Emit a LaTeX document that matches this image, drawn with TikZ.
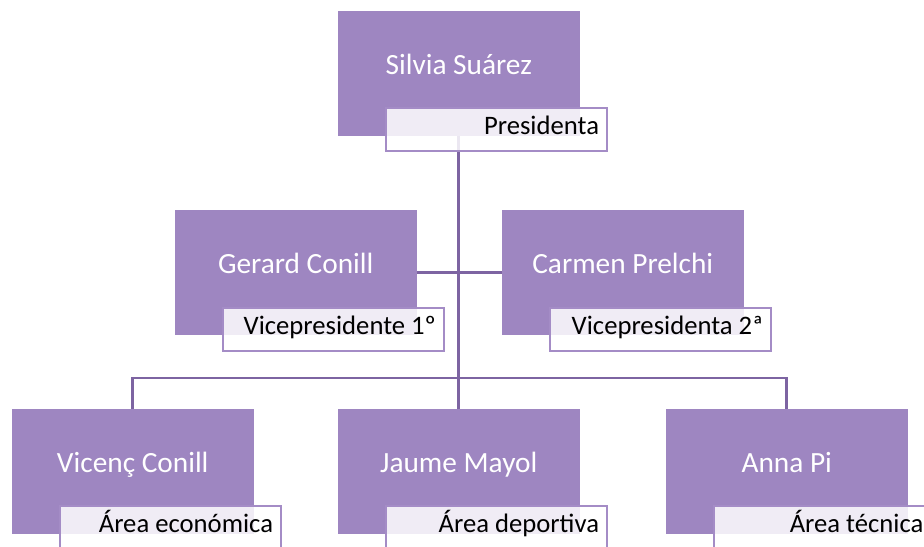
\documentclass[tikz,border=0pt]{standalone}
\usepackage{fontspec}
\setmainfont{Carlito}
\usetikzlibrary{backgrounds}
\definecolor{lila}{HTML}{9E86C1}
\definecolor{lilalinea}{HTML}{7D64A2}
\definecolor{lilaborde}{HTML}{A48CC6}
\tikzset{
  persona/.style={fill=lila, draw=lila, minimum width=180.75pt, minimum height=93pt, inner sep=0pt, anchor=north west},
  nombre/.style={text=white, font=\fontsize{22}{26}\selectfont, anchor=base},
  cargo/.style={fill=white, fill opacity=0.85, text opacity=1, draw=lilaborde, line width=1.5pt,
    minimum height=32.25pt, text width=153.75pt, align=flush right, inner xsep=6pt, inner ysep=0pt,
    text height=13pt, text depth=6pt, anchor=north west, font=\fontsize{20}{24}\selectfont},
  enlace/.style={draw=lilalinea, line width=2pt}
}

\begin{document}
\begin{tikzpicture}[x=0.75pt,y=-0.75pt]
\useasboundingbox (0,0) rectangle (924,546);
\clip (0,0) rectangle (924,546);
\node[persona] (silvia) at (338,11) {};
\node[persona] (gerard) at (175,210) {};
\node[persona] (carmen) at (502,210) {};
\node[persona] (vicenc) at (12,409) {};
\node[persona] (jaume) at (338,409) {};
\node[persona] (anna) at (666,409) {};
\node[nombre] (silvia-n) at ([shift={(0,1)}]silvia.center) {Silvia Suárez};
\node[nombre] (gerard-n) at ([shift={(0,1)}]gerard.center) {Gerard Conill};
\node[nombre] (carmen-n) at ([shift={(0,1)}]carmen.center) {Carmen Prelchi};
\node[nombre] (vicenc-n) at ([shift={(0,1)}]vicenc.center) {Vicenç Conill};
\node[nombre] (jaume-n) at ([shift={(0,1)}]jaume.center) {Jaume Mayol};
\node[nombre] (anna-n) at ([shift={(0,1)}]anna.center) {Anna Pi};
\node[cargo] (silvia-c) at ([shift={(47,96)}]silvia.north west) {Presidenta};
\node[cargo] (gerard-c) at ([shift={(47,97)}]gerard.north west) {Vicepresidente 1º};
\node[cargo] (carmen-c) at ([shift={(47,97)}]carmen.north west) {Vicepresidenta 2ª};
\node[cargo] (vicenc-c) at ([shift={(47,96)}]vicenc.north west) {Área económica};
\node[cargo] (jaume-c) at ([shift={(47,96)}]jaume.north west) {Área deportiva};
\node[cargo, text width=151pt] (anna-c) at ([shift={(47,96)}]anna.north west) {Área técnica};
\coordinate (bus) at (458,378);
\begin{scope}[on background layer]
\draw[enlace] (silvia.south) -- (jaume.north);
\draw[enlace] (gerard.east) -- (carmen.west);
\draw[enlace] (vicenc.north) |- (bus) -| (anna.north);
\end{scope}
\end{tikzpicture}
\end{document}
